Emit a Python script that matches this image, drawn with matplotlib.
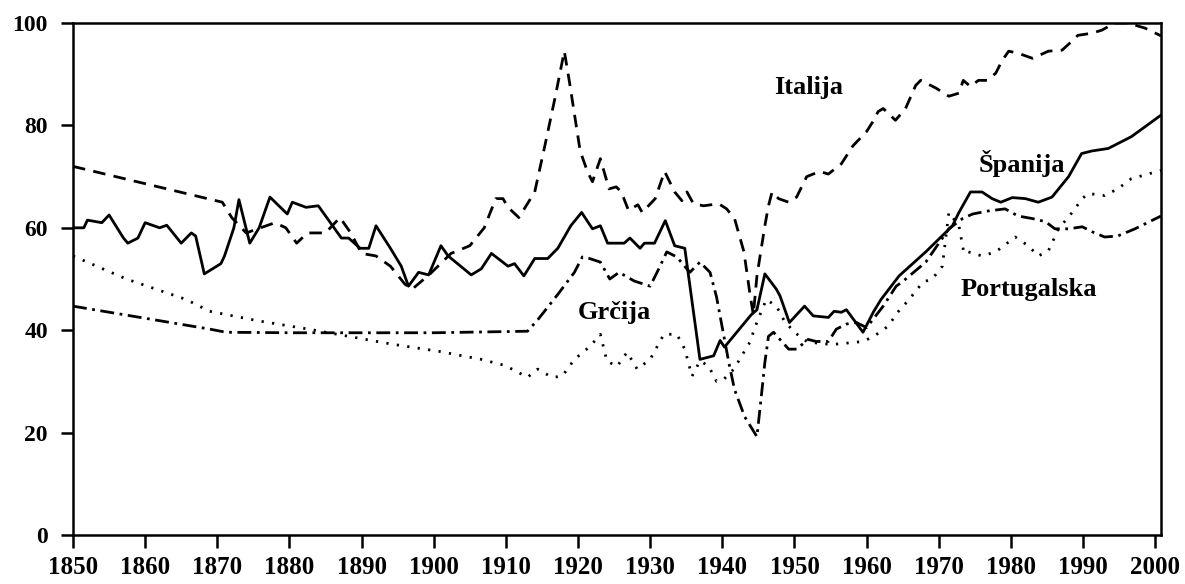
import matplotlib
matplotlib.use("Agg")
import matplotlib.pyplot as plt

# ---- data ----
spain_years = [1850, 1851.5, 1852, 1854, 1855, 1857, 1857.6, 1859, 1860, 1862, 1863, 1865, 1866.4, 1867,
               1868.2, 1870.5, 1871, 1872.3, 1873, 1874.5, 1875.8, 1877.3, 1879.7, 1880.4, 1882.3, 1884,
               1887.2, 1888.2, 1889.8, 1891, 1892, 1894, 1895.5, 1896.5, 1897.9, 1899.3, 1901, 1902, 1905.2,
               1906.6, 1908, 1910.3, 1911.2, 1912.5, 1914, 1915.8, 1917.2, 1919, 1920.5, 1922, 1923.1,
               1924.1, 1926.4, 1927.2, 1928.6, 1929.2, 1930.6, 1932.1, 1933.4, 1934.8, 1936.9, 1938.8,
               1939.7, 1940.3, 1944, 1944.8, 1945.9, 1947.5, 1948, 1949.3, 1951.4, 1952.6, 1954.7, 1955.5,
               1956.5, 1957.2, 1959.5, 1961, 1962, 1964.5, 1968.2, 1971.9, 1972.8, 1974.4, 1976, 1977.4,
               1978.6, 1980.2, 1982, 1983.8, 1985.7, 1988, 1989.8, 1991.2, 1993.5, 1996.7, 2000.8]
spain_vals = [60, 60, 61.5, 61, 62.5, 58, 57, 58, 61, 60, 60.5, 57, 59, 58.4,
              51, 53, 54.5, 60, 65.5, 57, 60, 66, 62.7, 65, 64, 64.3,
              58, 58, 56, 56, 60.4, 56, 52.5, 48.6, 51.3, 50.8, 56.5, 54.5, 50.8,
              52, 55, 52.5, 53, 50.6, 54, 54, 56, 60.4, 63, 59.8, 60.4,
              57, 57, 58, 56, 57, 57, 61.4, 56.5, 56, 34.3, 35,
              38, 36.7, 43, 44, 51, 48, 46.7, 41.5, 44.7, 42.8, 42.5, 43.7,
              43.5, 44, 39.6, 43.7, 46, 50.6, 55.3, 60.4, 63, 67, 67, 65.7,
              65, 65.9, 65.7, 65, 66, 70, 74.5, 75, 75.5, 77.8, 82]

italy_years = [1850, 1870.7, 1872, 1874, 1876, 1878, 1879.5, 1881, 1882.5, 1885, 1887, 1888.5, 1890,
               1892, 1894, 1896, 1897, 1899.5, 1902.4, 1905, 1907, 1908.6, 1909.6, 1910.3, 1911.8, 1914,
               1915.4, 1916.8, 1918.1, 1918.8, 1920.3, 1921.3, 1922, 1923.1, 1924.3, 1925.3, 1926, 1927,
               1928.3, 1928.9, 1930.7, 1932, 1933.4, 1934.4, 1935.1, 1936, 1937.4, 1939.5, 1940.6, 1941.7,
               1943, 1943.8, 1944.3, 1944.8, 1945.9, 1946.4, 1946.9, 1947.8, 1949.2, 1950.3, 1951.7,
               1953.5, 1954.7, 1956.5, 1958.1, 1960, 1960.9, 1961.6, 1962.3, 1964, 1965.4, 1966.8, 1967.5,
               1969.6, 1971.4, 1972.8, 1973.4, 1974.4, 1975.5, 1976.7, 1977.9, 1978.8, 1979.7, 1981, 1983,
               1985.2, 1987.1, 1988.5, 1989.3, 1991.2, 1992.6, 1994.4, 1996.2, 1998.6, 2000.8]
italy_vals = [72, 65, 62, 59, 60, 61, 60, 57, 59, 59, 62, 59, 55,
              54.5, 52.5, 49, 48, 51, 55, 56.5, 60, 65.7, 65.7, 64, 62, 67,
              76, 85.3, 94.5, 88.6, 75, 71, 69, 73.5, 67.6, 68, 67, 63.4,
              64.5, 63, 65.7, 71, 67, 65.3, 67, 64.7, 64.3, 64.7, 63.7, 61.8,
              55.3, 47.4, 43, 50.6, 60.4, 64.3, 67, 65.7, 65, 66, 70,
              71, 70.5, 72.5, 76, 78.8, 80.8, 82.7, 83.3, 81, 83.3, 87.8, 88.8,
              87.3, 85.7, 86.3, 88.8, 87.6, 88.8, 88.8, 90.2, 92.7, 94.5, 94.1, 93.1,
              94.5, 94.7, 96.5, 97.6, 98, 98.6, 100, 100, 99, 97.5]

greece_years = [1850, 1869, 1871.2, 1880, 1890, 1900, 1913, 1914.4, 1917.2, 1919.5, 1920.6, 1921.6, 1923.1,
                1924.4, 1925.7, 1927.8, 1930, 1931.2, 1932.3, 1933.7, 1935.5, 1936.9, 1938.3, 1939.2,
                1940.9, 1941.7, 1943.1, 1944.8, 1945.4, 1945.9, 1946.4, 1947.1, 1949.2, 1950.3, 1951.9,
                1953, 1954.7, 1955.8, 1957.2, 1958.6, 1960, 1962.3, 1964.1, 1965, 1968.2, 1971.4, 1973.3,
                1974.7, 1976.9, 1979.2, 1981, 1983, 1984.8, 1986.1, 1988, 1989.9, 1991.3, 1993, 1994.8,
                1997.2, 2000.8]
greece_vals = [44.7, 40.2, 39.6, 39.5, 39.5, 39.5, 39.8, 42, 47, 51.3, 54.3, 54, 53.3,
               50, 51.3, 49.6, 48.6, 52, 55.3, 54.3, 51.3, 53.3, 51.3, 46.5,
               33.7, 28.4, 23.1, 19.2, 27, 33.7, 38.8, 39.6, 36.3, 36.3, 38.2,
               37.8, 37.8, 40.2, 41.2, 41.5, 40.5, 44.7, 48.6, 49.5, 53.3, 59.8, 61.8,
               62.7, 63.3, 63.7, 62.3, 61.8, 61.2, 59.8, 59.8, 60.2, 59.2, 58.2, 58.4,
               59.8, 62.3]

portugal_years = [1850, 1857.4, 1865.7, 1868.9, 1875.8, 1882.7, 1888.2, 1894.1, 1900.6, 1906.6, 1909.9,
                  1913, 1914.4, 1916.4, 1917.8, 1919.5, 1921.7, 1923.1, 1924, 1925.4, 1926.8, 1928.2,
                  1930, 1931.9, 1933.7, 1934.8, 1935.8, 1936.9, 1938.1, 1939.2, 1940.2, 1941.6, 1943.8,
                  1944.8, 1946.1, 1947.5, 1948.6, 1950, 1951.7, 1954, 1956, 1959.5, 1961, 1963, 1964.3,
                  1965.9, 1967.8, 1969.1, 1970.5, 1971.4, 1972.8, 1973.5, 1974.1, 1976, 1977.9, 1980.6,
                  1982.4, 1983.8, 1985.2, 1986.6, 1988.5, 1989.9, 1990.7, 1993, 1994.8, 1996.7, 2000.8]
portugal_vals = [54.5, 50, 46, 43.7, 41.8, 40.2, 38.8, 37.3, 35.9, 34.3, 33.1,
                 30.8, 32.4, 30.8, 31, 34.3, 36.9, 39.2, 34, 32.9, 35.7, 32.4,
                 34.3, 39.2, 39.2, 36.3, 31, 34, 33, 30, 30.4, 32.4, 37.6,
                 41.6, 46, 44.7, 41.8, 39.6, 37.8, 37.3, 37.3, 37.8, 38.8, 40.8, 43.5,
                 46, 49.4, 50, 52.5, 63, 60.4, 55, 55.3, 54.5, 55.3, 58.2,
                 56.5, 54.5, 55.5, 59.8, 63, 65.7, 66.7, 66.3, 67.6, 69.6, 71.2]

labels = ["Italija", "Španija", "Grčija", "Portugalska"]
label_pos = [(1952, 87.5), (1981.5, 72.5), (1925, 43.5), (1982.5, 48)]

x_ticks = list(range(1850, 2001, 10))
y_ticks = [0, 20, 40, 60, 80, 100]

# ---- plotting ----
serif = ["Liberation Serif", "DejaVu Serif"]
fig = plt.figure(figsize=(11.85, 5.84), dpi=100)
ax = fig.add_axes([0.0616, 0.0839, 0.9181, 0.8767])

lw = 2.0
ax.plot(spain_years, spain_vals, color="black", lw=lw, linestyle="-")
ax.plot(italy_years, italy_vals, color="black", lw=lw, linestyle=(0, (4.5, 3)))
ax.plot(greece_years, greece_vals, color="black", lw=lw, linestyle=(0, (5, 2, 1, 2)))
ax.plot(portugal_years, portugal_vals, color="black", lw=lw, linestyle=(0, (0.8, 3.0)))

for txt, (xx, yy) in zip(labels, label_pos):
    ax.text(xx, yy, txt, ha="center", va="center", fontsize=19, fontweight="bold",
            family=serif, color="black")

ax.set_xlim(1850, 2000.8)
ax.set_ylim(0, 100)
ax.set_xticks(x_ticks)
ax.set_yticks(y_ticks)
ax.set_xticklabels([str(t) for t in x_ticks])
ax.set_yticklabels([str(t) for t in y_ticks])
for lab in ax.get_xticklabels():
    lab.set_family(serif)
    lab.set_fontweight("bold")
    lab.set_fontsize(18)
for lab in ax.get_yticklabels():
    lab.set_family(serif)
    lab.set_fontweight("bold")
    lab.set_fontsize(17)
ax.tick_params(axis="x", direction="out", length=9, width=1.8, pad=6)
ax.tick_params(axis="y", direction="out", length=9, width=1.8, pad=9)
for sp in ax.spines.values():
    sp.set_linewidth(1.8)

fig.savefig("out.png", dpi=100)
